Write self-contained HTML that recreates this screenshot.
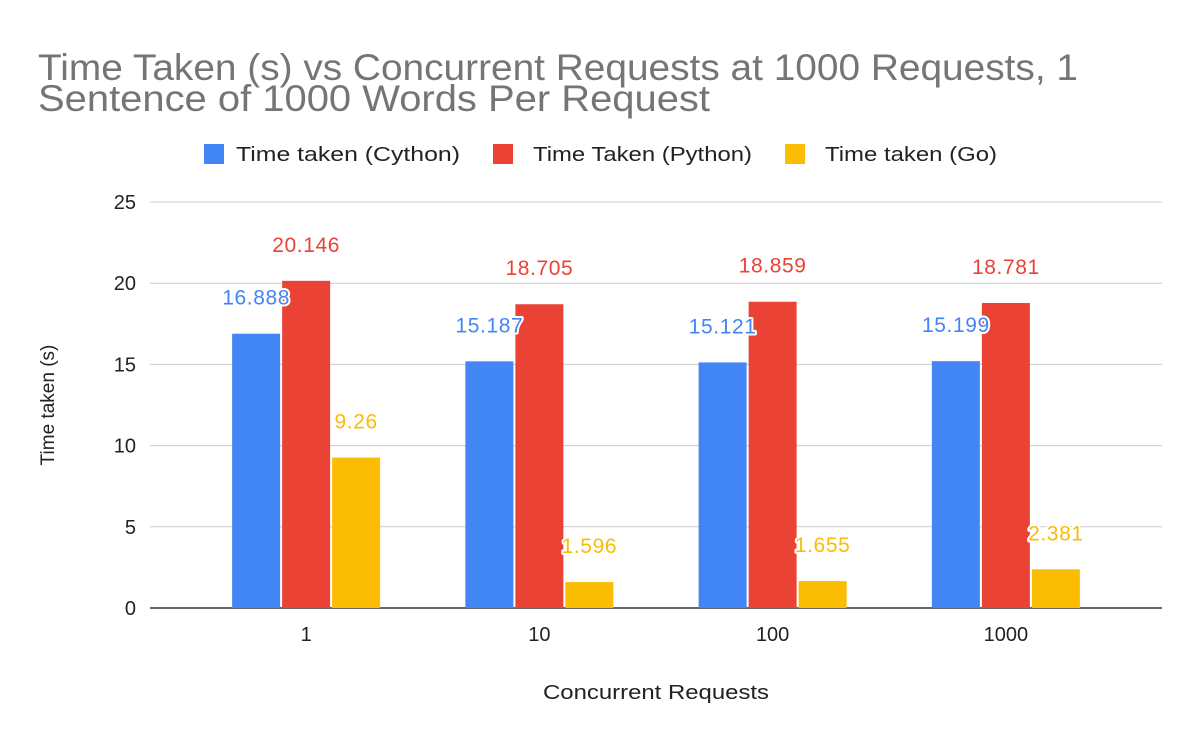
<!DOCTYPE html>
<html><head><meta charset="utf-8"><style>
body{margin:0;background:#fff;}
svg text{font-family:"Liberation Sans",Arial,sans-serif;}
</style></head><body>
<svg width="1200" height="742" xmlns="http://www.w3.org/2000/svg" id="chart">
<rect width="1200" height="742" fill="#fff"/>
<text x="38" y="80" font-size="37" fill="#757575" textLength="1040" lengthAdjust="spacingAndGlyphs">Time Taken (s) vs Concurrent Requests at 1000 Requests, 1</text>
<text x="38" y="111" font-size="37" fill="#757575" textLength="672" lengthAdjust="spacingAndGlyphs">Sentence of 1000 Words Per Request</text>
<g font-size="20" fill="#222">
<rect x="204" y="144" width="20" height="20" fill="#4285f4"/>
<text x="236" y="161" textLength="224" lengthAdjust="spacingAndGlyphs">Time taken (Cython)</text>
<rect x="493" y="144" width="20" height="20" fill="#ea4335"/>
<text x="533" y="161" textLength="219" lengthAdjust="spacingAndGlyphs">Time Taken (Python)</text>
<rect x="785" y="144" width="20" height="20" fill="#fbbc04"/>
<text x="825" y="161" textLength="172" lengthAdjust="spacingAndGlyphs">Time taken (Go)</text>
</g>
<g id="grid"></g>
<g id="bars"></g>
<g id="labels"></g>
<text x="656" y="699" font-size="20" fill="#222" text-anchor="middle" textLength="226" lengthAdjust="spacingAndGlyphs">Concurrent Requests</text>
<text transform="translate(54,405) rotate(-90)" font-size="19" fill="#222" text-anchor="middle">Time taken (s)</text>
</svg>
<script>
const categories = ["1","10","100","1000"];
const cython = [16.888, 15.187, 15.121, 15.199];
const python = [20.146, 18.705, 18.859, 18.781];
const go = [9.26, 1.596, 1.655, 2.381];
const yTicks = [0,5,10,15,20,25];

const NS="http://www.w3.org/2000/svg";
const x0=150,x1=1162,yBase=608,yTop=202,yMax=25;
const bandStart=189.5,bandEnd=1122.5;
const y=v=>yBase-(v/yMax)*(yBase-yTop);
const groupW=(bandEnd-bandStart)/categories.length;
const barW=48,gap=2;
function mk(tag,attrs,parent){const e=document.createElementNS(NS,tag);for(const k in attrs)e.setAttribute(k,attrs[k]);parent.appendChild(e);return e;}
const grid=document.getElementById('grid'),bars=document.getElementById('bars'),labels=document.getElementById('labels');
yTicks.forEach(t=>{
  const l=mk('line',{x1:x0,x2:x1,y1:y(t),y2:y(t),stroke:t===0?'#333':'#ccc','stroke-width':t===0?1.5:1},grid);
  
  
  const tx=mk('text',{x:136,y:y(t)+7,'font-size':20,fill:'#222','text-anchor':'end'},grid);
  tx.textContent=t;
  
  
});
const series=[{d:cython,c:'#4285f4',n:'cython'},{d:python,c:'#ea4335',n:'python'},{d:go,c:'#fbbc04',n:'go'}];
categories.forEach((cat,i)=>{
  const cx=bandStart+groupW*(i+0.5);
  const start=cx-(3*barW+2*gap)/2;
  series.forEach((s,j)=>{
    const bx=start+j*(barW+gap),v=s.d[i];
    const r=mk('rect',{x:bx,y:y(v),width:barW,height:yBase-y(v),fill:s.c},bars);
    
    
    const t=mk('text',{x:bx+barW/2,y:y(v)-29,'font-size':21,'letter-spacing':0.6,fill:s.c,'text-anchor':'middle',stroke:'#fff','stroke-width':4,'paint-order':'stroke','stroke-linejoin':'round'},labels);
    t.textContent=v;
    
    
  });
  const xl=mk('text',{x:cx,y:641,'font-size':20,fill:'#222','text-anchor':'middle'},grid);
  xl.textContent=cat;
  
  
});
</script>
</body></html>
